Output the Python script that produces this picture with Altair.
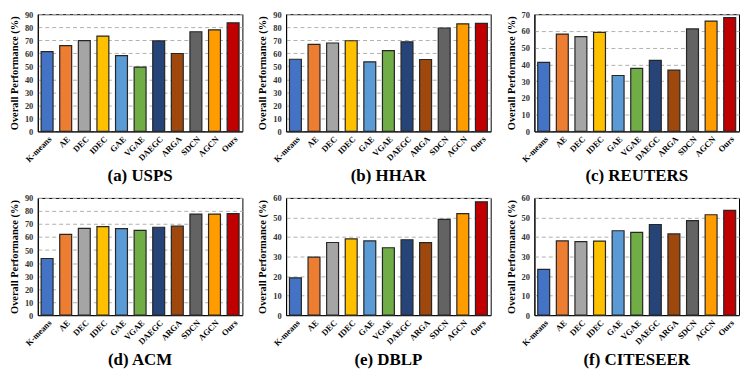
import altair as alt
import pandas as pd

methods = ["K-means", "AE", "DEC", "IDEC", "GAE", "VGAE", "DAEGC", "ARGA", "SDCN", "AGCN", "Ours"]
colors = ["#4472C4", "#ED7D31", "#A5A5A5", "#FFC000", "#5B9BD5", "#70AD47",
          "#264478", "#9E480E", "#636363", "#FF9C00", "#C00000"]

usps = [61.3, 65.8, 69.7, 73.2, 58.2, 49.4, 69.5, 59.8, 76.5, 78.0, 83.4]
hhar = [55.4, 66.8, 67.9, 69.6, 53.4, 62.0, 68.8, 55.2, 79.4, 82.6, 83.0]
reuters = [41.2, 58.1, 56.6, 59.1, 33.4, 37.6, 42.4, 36.6, 61.2, 65.9, 68.0]
acm = [43.5, 62.0, 66.6, 68.0, 66.5, 65.1, 67.5, 68.3, 77.6, 77.6, 78.0]
dblp = [19.1, 29.7, 37.2, 39.0, 38.0, 34.5, 38.6, 37.1, 49.0, 52.0, 58.0]
citeseer = [23.4, 38.0, 37.6, 37.9, 43.2, 42.4, 46.4, 41.6, 48.4, 51.4, 53.6]

panels = [
    (usps, 90, "(a) USPS"),
    (hhar, 90, "(b) HHAR"),
    (reuters, 70, "(c) REUTERS"),
    (acm, 90, "(d) ACM"),
    (dblp, 60, "(e) DBLP"),
    (citeseer, 60, "(f) CITESEER"),
]

FONT = "Liberation Serif"


def panel(vals, ymax, title):
    df = pd.DataFrame({"method": methods, "value": vals})
    return alt.Chart(df).mark_bar(stroke="#262626", strokeWidth=1.2, size=12).encode(
        x=alt.X("method:N", sort=methods,
                axis=alt.Axis(labelAngle=-45, title=None, ticks=False, domain=True,
                              domainColor="black", labelFont=FONT, labelFontWeight="bold",
                              labelFontSize=8.5, labelColor="black", labelPadding=3)),
        y=alt.Y("value:Q", scale=alt.Scale(domain=[0, ymax], nice=False),
                axis=alt.Axis(values=list(range(0, ymax + 1, 10)), grid=True,
                              gridDash=[4, 3], gridColor="#b0b0b0", gridWidth=1,
                              domainColor="black", ticks=False,
                              labelFont=FONT, labelFontWeight="bold", labelFontSize=8.5,
                              labelColor="#333333", labelPadding=5,
                              title="Overall  Performance (%)",
                              titleFont=FONT, titleFontWeight="bold", titleFontSize=10.5,
                              titleColor="black", titlePadding=5)),
        color=alt.Color("method:N", scale=alt.Scale(domain=methods, range=colors), legend=None),
    ).properties(
        width=206, height=118,
        title=alt.TitleParams(title, orient="bottom", font=FONT, fontWeight="bold",
                              fontSize=17, color="black", offset=5),
    )


charts = [panel(*p) for p in panels]
row1 = alt.hconcat(*charts[:3], spacing=13)
row2 = alt.hconcat(*charts[3:], spacing=13)
chart = alt.vconcat(row1, row2, spacing=8).properties(
    padding={"left": 0, "top": 0, "right": 0, "bottom": 0}
).configure_view(stroke="black", strokeWidth=1)

chart.save("out.html", embed_options={"renderer": "svg", "actions": False})
